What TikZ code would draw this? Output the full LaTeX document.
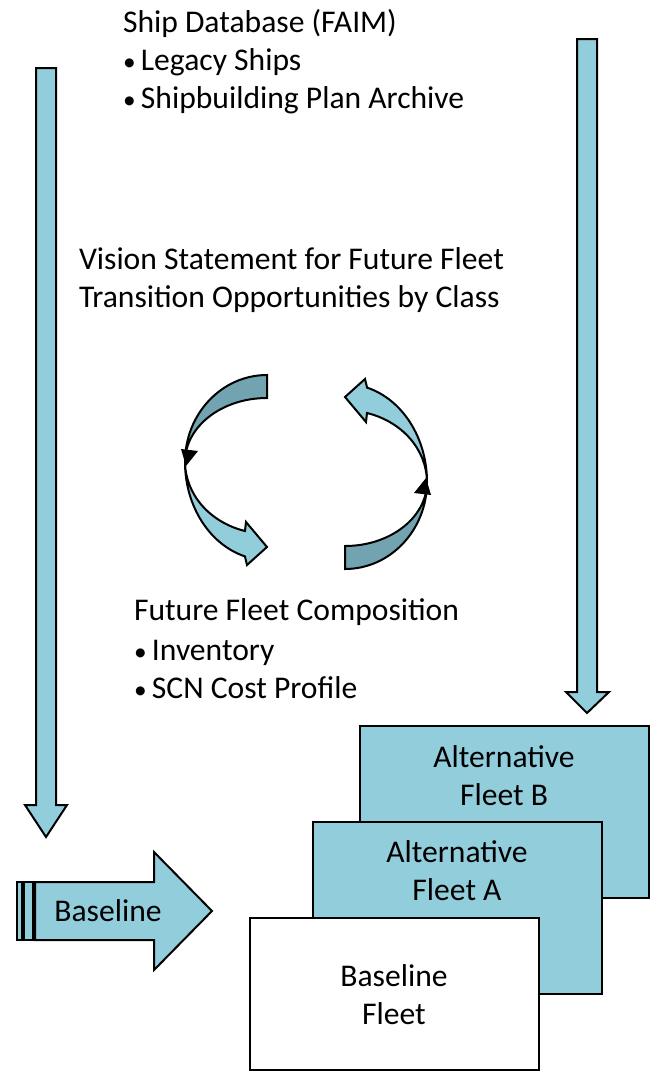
\documentclass[tikz,border=0pt]{standalone}
\usepackage{fontspec}
\setmainfont{Carlito}
\usepackage{xcolor}
\usepackage{tikz}
\usetikzlibrary{positioning}

\definecolor{aqua}{HTML}{92CDDC}
\definecolor{darkaqua}{HTML}{71A3B0}

% one half of the cycle: dark back band, light front band with head
\newcommand\cyclearrow{%
  \filldraw[fill=darkaqua] (267,375) arc[start angle=270,end angle=180,x radius=82,y radius=87]
    arc[start angle=180,end angle=270,x radius=82,y radius=64] -- cycle;
  \filldraw[fill=aqua] (185,462) arc[start angle=180,end angle=105.6,x radius=82,y radius=98]
    -- (247,565) -- (267,547) -- (246,522) -- (245,531)
    arc[start angle=105.6,end angle=180,x radius=82,y radius=72] -- cycle;
  \fill (181,449) -- (198,451) -- (186,466) -- cycle;}
\newcommand\bul{{\fontsize{19}{28.5}\selectfont\textbullet}\kern4pt}

\begin{document}
\begin{tikzpicture}[x=0.75pt,y=-0.75pt,line width=1.5pt,line join=miter,
  every node/.style={font=\fontsize{23.7}{28.5}\selectfont,inner sep=0pt},
  txt/.style={anchor=base west},
  blockarrow/.style={draw=black,fill=aqua},
  fleetbox/.style={draw=black,fill=aqua}]
\useasboundingbox (0,0) rectangle (656,1071);

% long arrows
\draw[blockarrow] (36,68) -- (56,68) -- (56,805) -- (67,805) -- (46,837) -- (25,805) -- (36,805) -- cycle;
\draw[blockarrow] (577,39) -- (597,39) -- (597,692) -- (609,692) -- (587,713) -- (566,692) -- (577,692) -- cycle;

% striped baseline arrow
\draw[blockarrow,line width=1.2pt] (17,882) rectangle (22,940);
\draw[blockarrow,line width=1.2pt] (24,882) rectangle (33,940);
\draw[blockarrow] (35,882) -- (154,882) -- (154,852) -- (212,911) -- (154,970) -- (154,940) -- (35,940) -- cycle;
\node (baseline) at (108,911) {Baseline};

% cycle arrows
\cyclearrow
\begin{scope}[rotate around={180:(306,472)}]
  \cyclearrow
\end{scope}

% texts
\node[txt] (shipdb) at (122,32) {Ship Database (FAIM)};
\node[txt] (legacy) at (122,70) {\bul Legacy Ships};
\node[txt] (archive) at (122,108) {\bul Shipbuilding Plan Archive};
\node[txt] (vision) at (78,269) {Vision Statement for Future Fleet};
\node[txt] (transition) at (78,307) {Transition Opportunities by Class};
\node[txt] (future) at (133,620) {Future Fleet Composition};
\node[txt] (inventory) at (133,660) {\bul Inventory};
\node[txt] (scn) at (133,698) {\bul SCN Cost Profile};

% fleets
\draw[fleetbox] (360,726) rectangle (649,898);
\node[align=center] (fleetB) at (504,776) {Alternative\\Fleet B};
\draw[fleetbox] (313,822) rectangle (602,994);
\node[align=center] (fleetA) at (457,871) {Alternative\\Fleet A};
\draw[fleetbox,fill=white] (250,918) rectangle (539,1070);
\node[align=center] (fleetBase) at (394,995) {Baseline\\Fleet};
\end{tikzpicture}
\end{document}
